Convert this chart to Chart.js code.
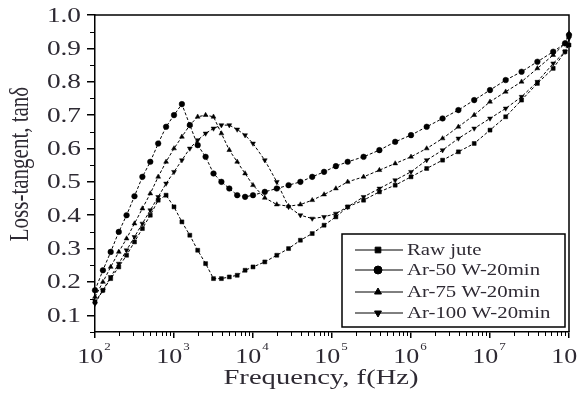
<!DOCTYPE html>
<html>
<head>
<meta charset="utf-8">
<script src="https://cdn.jsdelivr.net/npm/chart.js@4/dist/chart.umd.min.js"></script>
<style>
html, body { margin: 0; padding: 0; background: #fff; }
</style>
</head>
<body>
<canvas id="chartLoss" width="577" height="399"></canvas>
<script>
// frequency (Hz) and loss tangent
var freq = [100, 126, 158, 200, 251, 316, 398, 501, 631, 794,
	1000, 1259, 1585, 1995, 2512, 3162, 3981, 5012, 6310, 7943,
	1e4, 1.41e4, 2e4, 2.82e4, 3.98e4, 5.62e4, 7.94e4, 1.12e5, 1.58e5, 2.51e5,
	3.98e5, 6.31e5, 1e6, 1.58e6, 2.51e6, 3.98e6, 6.31e6, 1e7, 1.58e7, 2.51e7,
	3.98e7, 6.31e7, 8.91e7, 1e8];

var rawJute = [0.14, 0.175, 0.21, 0.245, 0.28, 0.32, 0.36, 0.40, 0.445, 0.46,
	0.425, 0.38, 0.34, 0.295, 0.255, 0.21, 0.21, 0.215, 0.22, 0.235,
	0.245, 0.26, 0.28, 0.30, 0.325, 0.345, 0.37, 0.395, 0.425, 0.445,
	0.47, 0.49, 0.515, 0.54, 0.565, 0.59, 0.615, 0.655, 0.695, 0.745,
	0.795, 0.84, 0.89, 0.91];

var ar50 = [0.175, 0.235, 0.29, 0.35, 0.40, 0.457, 0.515, 0.56, 0.615, 0.665,
	0.70, 0.733, 0.67, 0.61, 0.575, 0.525, 0.50, 0.48, 0.46, 0.455,
	0.46, 0.47, 0.48, 0.49, 0.50, 0.515, 0.53, 0.547, 0.56, 0.575,
	0.595, 0.62, 0.64, 0.665, 0.69, 0.715, 0.745, 0.775, 0.805, 0.83,
	0.86, 0.89, 0.915, 0.94];

var ar75 = [0.155, 0.20, 0.245, 0.29, 0.33, 0.375, 0.42, 0.465, 0.515, 0.56,
	0.60, 0.635, 0.67, 0.695, 0.70, 0.695, 0.645, 0.595, 0.56, 0.525,
	0.49, 0.452, 0.432, 0.427, 0.432, 0.445, 0.462, 0.48, 0.50, 0.515,
	0.535, 0.555, 0.575, 0.60, 0.63, 0.665, 0.70, 0.74, 0.77, 0.80,
	0.84, 0.88, 0.915, 0.945];

var ar100 = [0.135, 0.175, 0.215, 0.255, 0.295, 0.335, 0.375, 0.415, 0.455, 0.495,
	0.53, 0.565, 0.60, 0.625, 0.645, 0.66, 0.67, 0.67, 0.657, 0.64,
	0.615, 0.565, 0.50, 0.425, 0.40, 0.39, 0.395, 0.405, 0.425, 0.455,
	0.48, 0.505, 0.53, 0.565, 0.595, 0.63, 0.66, 0.69, 0.72, 0.755,
	0.80, 0.855, 0.89, 0.93];

var seriesLabels = ["Raw jute", "Ar-50 W-20min", "Ar-75 W-20min", "Ar-100 W-20min"];
var xTicks = [1e2, 1e3, 1e4, 1e5, 1e6, 1e7, 1e8];
var xTickExp = ["2", "3", "4", "5", "6", "7", "8"];
var yTicks = [0.1, 0.2, 0.3, 0.4, 0.5, 0.6, 0.7, 0.8, 0.9, 1.0];
var yMinor = [0.05, 0.15, 0.25, 0.35, 0.45, 0.55, 0.65, 0.75, 0.85, 0.95];

var serif = "'Liberation Serif', 'Times New Roman', serif";
var textColor = "#2e2a33";
var stretch = 1.3; // the figure's text is widened horizontally

function toPoints(values) {
	return freq.map(function(f, i) { return { x: f, y: values[i] }; });
}

function makeSet(label, values, style, rot) {
	return {
		label: label,
		data: toPoints(values),
		borderColor: "#000",
		backgroundColor: "#000",
		borderWidth: 1,
		borderDash: [3, 2],
		pointStyle: style,
		pointRotation: rot,
		pointRadius: 2.8,
		pointBorderWidth: 0.5,
		tension: 0,
		clip: false
	};
}

var legendStyles = [["rect", 0], ["circle", 0], ["triangle", 0], ["triangle", 180]];

// text drawn widened like in the original figure
function wideText(ctx, text, x, y, align) {
	ctx.save();
	ctx.translate(x, y);
	ctx.scale(stretch, 1);
	ctx.textAlign = align;
	ctx.fillText(text, 0, 0);
	ctx.restore();
}

var framePlugin = {
	id: "frame",
	afterDraw: function(chart) {
		var ctx = chart.ctx, a = chart.chartArea;
		var xs = chart.scales.x, ys = chart.scales.y;
		ctx.save();
		ctx.strokeStyle = "#000";
		ctx.lineWidth = 1.5;
		ctx.beginPath();
		ctx.moveTo(a.left, a.top);
		ctx.lineTo(a.right, a.top);
		ctx.lineTo(a.right, a.bottom);
		ctx.stroke();

		// minor ticks
		ctx.lineWidth = 1;
		ctx.beginPath();
		for (var d = 2; d < 8; d++) {
			for (var m = 2; m < 10; m++) {
				var px = Math.round(xs.getPixelForValue(m * Math.pow(10, d))) + 0.5;
				ctx.moveTo(px, a.bottom);
				ctx.lineTo(px, a.bottom + 4);
			}
		}
		yMinor.forEach(function(v) {
			var py = Math.round(ys.getPixelForValue(v)) + 0.5;
			ctx.moveTo(a.left - 5, py);
			ctx.lineTo(a.left, py);
		});
		ctx.stroke();

		// tick labels
		ctx.fillStyle = textColor;
		ctx.textBaseline = "middle";
		ctx.font = "21px " + serif;
		ys.ticks.forEach(function(t) {
			wideText(ctx, t.value.toFixed(1), a.left - 14, ys.getPixelForValue(t.value) + 1, "right");
		});
		ctx.textBaseline = "alphabetic";
		xs.ticks.forEach(function(t, i) {
			var px = xs.getPixelForValue(t.value);
			ctx.font = "20px " + serif;
			var w = ctx.measureText("10").width * stretch;
			ctx.font = "10px " + serif;
			var ws = ctx.measureText(xTickExp[i]).width * stretch;
			var x0 = px - (w + ws + 1) / 2 - 1;
			ctx.font = "20px " + serif;
			wideText(ctx, "10", x0, a.bottom + 31, "left");
			ctx.font = "10px " + serif;
			wideText(ctx, xTickExp[i], x0 + w + 1, a.bottom + 18, "left");
		});

		// axis titles
		ctx.font = "22px " + serif;
		wideText(ctx, "Frequency, f(Hz)", (a.left + a.right) / 2 - 11, a.bottom + 52, "center");
		ctx.save();
		ctx.font = "21px " + serif;
		ctx.translate(28, 164);
		ctx.rotate(-Math.PI / 2);
		ctx.scale(1, stretch);
		ctx.textAlign = "center";
		ctx.fillText("Loss-tangent, tan\u03B4", 0, 0);
		ctx.restore();

		// legend box
		var bx = a.right - 227, by = a.top + 219, bw = 223, bh = 93;
		ctx.fillStyle = "#fff";
		ctx.fillRect(bx, by, bw, bh);
		ctx.strokeStyle = "#000";
		ctx.lineWidth = 1.5;
		ctx.strokeRect(bx, by, bw, bh);
		ctx.font = "16px " + serif;
		ctx.textBaseline = "middle";
		var rows = [16, 36, 58, 79];
		chart.data.datasets.forEach(function(ds, i) {
			var ry = by + rows[i];
			ctx.strokeStyle = "#000";
			ctx.lineWidth = 1;
			ctx.beginPath();
			ctx.moveTo(bx + 13, ry);
			ctx.lineTo(bx + 61, ry);
			ctx.stroke();
			ctx.fillStyle = "#000";
			Chart.helpers.drawPoint(ctx, {
				pointStyle: legendStyles[i][0],
				rotation: legendStyles[i][1],
				radius: 4,
				borderWidth: 0.5
			}, bx + 36, ry);
			ctx.fillStyle = textColor;
			wideText(ctx, ds.label, bx + 65, ry + 1, "left");
		});
		ctx.restore();
	}
};

function Init() {
	var ctx = document.getElementById("chartLoss").getContext("2d");
	new Chart(ctx, {
		type: "line",
		data: {
			datasets: [
				makeSet(seriesLabels[0], rawJute, "rect", 0),
				makeSet(seriesLabels[1], ar50, "circle", 0),
				makeSet(seriesLabels[2], ar75, "triangle", 0),
				makeSet(seriesLabels[3], ar100, "triangle", 180)
			]
		},
		plugins: [framePlugin],
		options: {
			responsive: false,
			animation: false,
			layout: { padding: { top: 15, right: 8, left: 0, bottom: 0 }, autoPadding: false },
			plugins: { legend: { display: false }, tooltip: { enabled: false } },
			scales: {
				x: {
					type: "logarithmic",
					min: 100,
					max: 1e8,
					afterBuildTicks: function(scale) {
						scale.ticks = xTicks.map(function(v) { return { value: v, major: true }; });
					},
					afterFit: function(scale) { scale.height = 67; },
					ticks: { display: false },
					grid: { drawOnChartArea: false, tickLength: 6, color: "#000", lineWidth: 1.5 },
					border: { display: true, color: "#000", width: 1.5 }
				},
				y: {
					min: 0.05,
					max: 1.0,
					afterBuildTicks: function(scale) {
						scale.ticks = yTicks.map(function(v) { return { value: v }; });
					},
					afterFit: function(scale) { scale.width = 95; },
					ticks: { display: false },
					grid: { drawOnChartArea: false, tickLength: 8, color: "#000", lineWidth: 1.5 },
					border: { display: true, color: "#000", width: 1.5 }
				}
			}
		}
	});
}

Init();
</script>
</body>
</html>
